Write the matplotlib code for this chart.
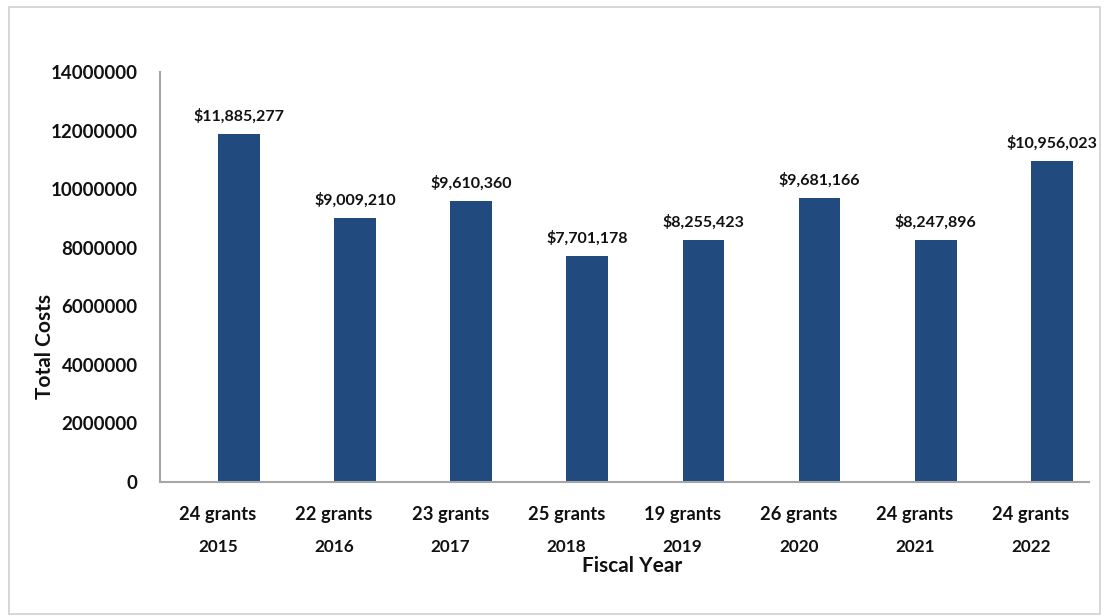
import matplotlib.pyplot as plt
from matplotlib.patches import Rectangle

plt.rcParams['font.family'] = ['Lato', 'DejaVu Sans']

years = ['2015', '2016', '2017', '2018', '2019', '2020', '2021', '2022']
grants = [24, 22, 23, 25, 19, 26, 24, 24]
costs = [11885277, 9009210, 9610360, 7701178, 8255423, 9681166, 8247896, 10956023]
yticks = [0, 2000000, 4000000, 6000000, 8000000, 10000000, 12000000, 14000000]

bar_color = '#214a7e'
spine_color = '#a6a6a6'
text_color = '#111111'

fig = plt.figure(figsize=(11.05, 6.16), dpi=100)
# light frame around the whole chart
fig.patches.append(Rectangle((0.0081, 0.0035), 0.9875, 0.985, transform=fig.transFigure,
                             fill=False, edgecolor='#d0d0d0', linewidth=1.2))

ax = fig.add_axes([0.1448, 0.2175, 0.8407, 0.6656])
x = list(range(len(years)))
ax.bar(x, costs, width=0.36, align='edge', color=bar_color)

for i, v in enumerate(costs):
    ax.text(i + 0.18, v + 350000, '${:,}'.format(v), ha='center', va='bottom',
            fontsize=11.5, fontweight='bold', color=text_color)

ax.set_xlim(-0.5, len(years) - 0.5)
ax.set_ylim(0, 14000000)
ax.set_yticks(yticks)
ax.set_yticklabels([str(t) for t in yticks], fontsize=13.5, fontweight='bold', color=text_color)
ax.set_xticks(x)
ax.set_xticklabels(['{} grants'.format(g) for g in grants], fontsize=13.2,
                   fontweight='bold', color=text_color)
ax.tick_params(axis='both', length=0)
ax.tick_params(axis='x', pad=17)
ax.tick_params(axis='y', pad=16)

# fiscal year under each grant count
for i, yr in enumerate(years):
    ax.text(i, -0.158, yr, transform=ax.get_xaxis_transform(), ha='center', va='center',
            fontsize=12.3, fontweight='bold', color=text_color)

for side in ['top', 'right']:
    ax.spines[side].set_visible(False)
for side in ['left', 'bottom']:
    ax.spines[side].set_color(spine_color)
    ax.spines[side].set_linewidth(1.5)

fig.text(0.572, 0.081, 'Fiscal Year', ha='center', va='center', fontsize=15,
         fontweight='bold', color=text_color)
fig.text(0.041, 0.437, 'Total Costs', ha='center', va='center', rotation=90,
         fontsize=15, fontweight='bold', color=text_color)

fig.savefig('out.png', dpi=100)
